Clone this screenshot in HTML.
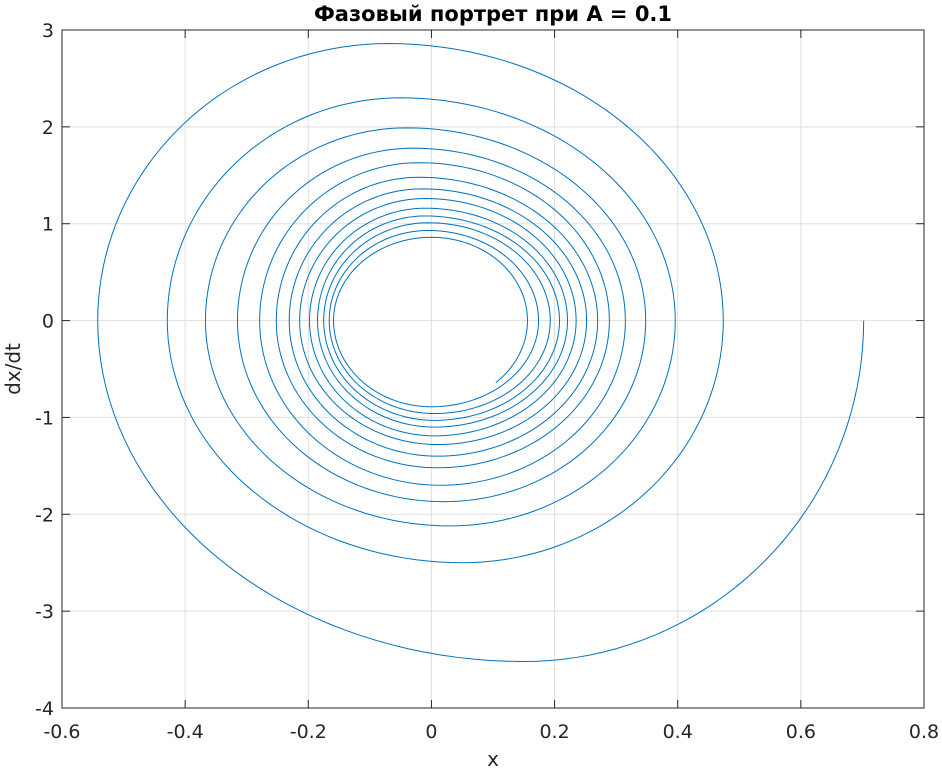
<!DOCTYPE html>
<html><head><meta charset="utf-8"><style>
html,body{margin:0;padding:0;background:#fff;}
svg text{font-family:"DejaVu Sans","Liberation Sans",sans-serif;fill:#262626;}
</style></head><body>
<svg id="chart" width="942" height="768" viewBox="0 0 942 768" xmlns="http://www.w3.org/2000/svg">
<rect x="0" y="0" width="942" height="768" fill="#fff"/>
<g id="grid"></g>
<g id="series"></g>
<rect x="62" y="30" width="862" height="678" fill="none" stroke="#262626" stroke-width="1"/>
<g id="ticks"></g>
<text x="493" y="21" text-anchor="middle" font-size="21" font-weight="bold" style="fill:#000">Фазовый портрет при A = 0.1</text>
<text x="493" y="766" text-anchor="middle" font-size="20">x</text>
<text x="20" y="369" text-anchor="middle" font-size="20" transform="rotate(-90 20 369)">dx/dt</text>
</svg>
<script>
const xTicks=[-0.6,-0.4,-0.2,0,0.2,0.4,0.6,0.8];
const xTickLabels=["-0.6","-0.4","-0.2","0","0.2","0.4","0.6","0.8"];
const yTicks=[-4,-3,-2,-1,0,1,2,3];
const yTickLabels=["-4","-3","-2","-1","0","1","2","3"];
// spiral extremes, in trajectory order
const rightX=[0.702,0.474,0.396,0.348,0.315,0.289,0.270,0.252,0.235,0.221,0.208,0.193,0.174,0.156];
const bottomY=[-3.52,-2.50,-2.12,-1.87,-1.70,-1.52,-1.40,-1.28,-1.19,-1.10,-1.03,-0.96,-0.89];
const bottomX=[0.15,0.05,0.03,0.02,0.015,0.01,0.01,0.01,0.005,0.005,0.005,0.005,0.0];
const leftX=[-0.542,-0.429,-0.367,-0.315,-0.279,-0.252,-0.231,-0.214,-0.198,-0.185,-0.175,-0.166,-0.159];
const topY=[2.86,2.30,1.99,1.78,1.63,1.48,1.36,1.26,1.16,1.08,1.01,0.93,0.86];
const topX=[-0.07,-0.05,-0.04,-0.03,-0.02,-0.02,-0.015,-0.01,-0.01,-0.01,-0.005,-0.005,0.0];
const endPoint=[0.099,-0.64];

const X0=62,X1=924,Y0=30,Y1=708,xmin=-0.6,xmax=0.8,ymin=-4,ymax=3;
const sx=v=>X0+(v-xmin)/(xmax-xmin)*(X1-X0);
const sy=v=>Y1-(v-ymin)/(ymax-ymin)*(Y1-Y0);
const NS="http://www.w3.org/2000/svg";
const grid=document.getElementById('grid'),ticks=document.getElementById('ticks'),series=document.getElementById('series');
function mk(tag,attrs,parent){const e=document.createElementNS(NS,tag);for(const k in attrs)e.setAttribute(k,attrs[k]);parent.appendChild(e);return e;}
xTicks.forEach((v,i)=>{
 const x=sx(v);
 const g=mk('line',{x1:x,x2:x,y1:Y0,y2:Y1,stroke:'#dfdfdf','stroke-width':1},grid);
 
 
 const t1=mk('line',{x1:x,x2:x,y1:Y1,y2:Y1-8,stroke:'#262626'},ticks);
 
 
 const t2=mk('line',{x1:x,x2:x,y1:Y0,y2:Y0+8,stroke:'#262626'},ticks);
 
 
 const l=mk('text',{x:x,y:738,'text-anchor':'middle','font-size':19},ticks);
 l.textContent=xTickLabels[i];
 
 
});
yTicks.forEach((v,i)=>{
 const y=sy(v);
 const g=mk('line',{x1:X0,x2:X1,y1:y,y2:y,stroke:'#dfdfdf','stroke-width':1},grid);
 
 
 const t1=mk('line',{x1:X0,x2:X0+8,y1:y,y2:y,stroke:'#262626'},ticks);
 
 
 const t2=mk('line',{x1:X1,x2:X1-8,y1:y,y2:y,stroke:'#262626'},ticks);
 
 
 const l=mk('text',{x:54,y:y+7,'text-anchor':'end','font-size':19},ticks);
 l.textContent=yTickLabels[i];
 
 
});
// build trajectory from quarter arcs
const pts=[];const N=40;
function arc(fn,tEnd){const te=tEnd===undefined?Math.PI/2:tEnd;for(let k=0;k<=N;k++){const t=te*k/N;pts.push(fn(t));}}
for(let i=0;i<bottomY.length;i++){
 const xr=rightX[i],xb=bottomX[i],yb=bottomY[i],xl=leftX[i],xt=topX[i],yt=topY[i],xr2=rightX[i+1];
 arc(t=>[xb+(xr-xb)*Math.cos(t),yb*Math.sin(t)]);
 arc(t=>[xb+(xl-xb)*Math.sin(t),yb*Math.cos(t)]);
 arc(t=>[xt+(xl-xt)*Math.cos(t),yt*Math.sin(t)]);
 arc(t=>[xt+(xr2-xt)*Math.sin(t),yt*Math.cos(t)]);
}
{
 const xr=rightX[rightX.length-1],xb=0,yb=bottomY[bottomY.length-1]*0.97;
 const tEnd=Math.asin(Math.min(1,endPoint[1]/yb));
 arc(t=>[xb+(xr-xb)*Math.cos(t),yb*Math.sin(t)],tEnd);
}
const d=pts.map((p,i)=>(i?'L':'M')+sx(p[0]).toFixed(2)+' '+sy(p[1]).toFixed(2)).join('');
const path=mk('path',{d:d,fill:'none',stroke:'#0072bd','stroke-width':1},series);


</script>
</body></html>
